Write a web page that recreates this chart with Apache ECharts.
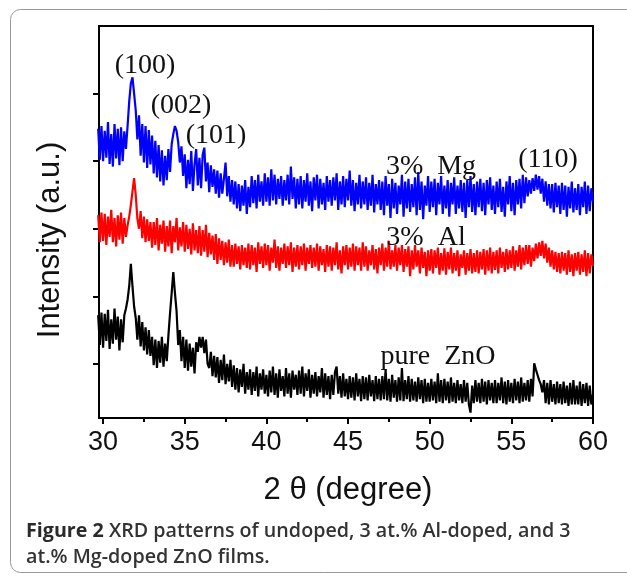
<!DOCTYPE html>
<html>
<head>
<meta charset="utf-8">
<script src="https://cdn.jsdelivr.net/npm/echarts@6/dist/echarts.min.js"></script>
<style>html,body{margin:0;padding:0;background:#fff}#c{width:627px;height:576px}</style>
</head>
<body>
<div id="c"></div>
<script>
// 2θ sampling grid: starts at 29.7°, 0.1° per sample
const thetaStart = 29.7;
const thetaStep = 0.1;

// Intensity (a.u.), one row per degree (29.7-29.9, 30.0-30.9, ..., 60.0)
const mg3 = [
  448, 402, 452,
  400, 445, 405, 458, 396, 440, 392, 455, 404, 448,
  394, 450, 400, 444, 418, 452, 488, 515, 524, 500,
  475, 432, 468, 408, 455, 398, 452, 390, 446, 395,
  438, 382, 430, 376, 424, 370, 416, 364, 408, 372,
  418, 384, 425, 440, 452, 445, 428, 398, 422, 378,
  410, 360, 402, 366, 415, 356, 395, 418, 364, 405,
  360, 410, 420, 370, 398, 354, 394, 362, 388, 352,
  386, 346, 382, 352, 374, 398, 348, 378, 340, 372,
  336, 370, 330, 366, 326, 364, 334, 372, 322, 362,
  332, 378, 338, 372, 330, 380, 340, 370, 334, 382,
  340, 376, 334, 388, 342, 380, 336, 374, 344, 378,
  334, 372, 342, 380, 336, 392, 344, 376, 330, 374,
  336, 378, 330, 372, 340, 382, 334, 370, 326, 376,
  342, 380, 330, 374, 336, 368, 328, 378, 340, 372,
  334, 376, 342, 382, 328, 370, 336, 378, 332, 374,
  342, 386, 334, 372, 326, 368, 336, 380, 330, 370,
  336, 376, 328, 368, 334, 380, 324, 366, 336, 372,
  328, 370, 320, 378, 334, 366, 316, 374, 330, 368,
  322, 364, 336, 380, 318, 370, 330, 374, 325, 366,
  332, 376, 320, 384, 328, 370, 314, 364, 334, 378,
  325, 370, 332, 374, 320, 368, 336, 378, 322, 364,
  330, 372, 318, 368, 336, 376, 322, 364, 330, 372,
  325, 368, 316, 372, 332, 378, 325, 366, 320, 370,
  332, 374, 326, 368, 320, 372, 336, 376, 328, 364,
  322, 370, 332, 374, 325, 362, 318, 370, 336, 378,
  326, 368, 320, 372, 336, 374, 330, 380, 338, 376,
  348, 372, 352, 375, 356, 380, 358, 378, 352, 374,
  340, 370, 334, 366, 330, 366, 324, 368, 332, 364,
  322, 368, 328, 364, 318, 362, 330, 370, 324, 360,
  328, 366, 320, 362, 332, 370, 322, 364, 326, 360,
  340
];
const al3 = [
  320, 280, 324,
  282, 322, 276, 318, 288, 328, 280, 316, 274, 320,
  284, 324, 278, 316, 288, 305, 318, 335, 355, 375,
  350, 315, 300, 326, 286, 318, 280, 314, 282, 310,
  272, 310, 276, 316, 268, 306, 278, 312, 266, 304,
  274, 312, 264, 304, 280, 316, 268, 302, 274, 310,
  266, 306, 270, 300, 262, 308, 268, 298, 264, 304,
  260, 298, 266, 306, 258, 294, 262, 290, 254, 292,
  248, 286, 254, 282, 246, 280, 250, 284, 244, 276,
  244, 278, 248, 274, 240, 276, 246, 272, 242, 278,
  240, 276, 246, 272, 236, 280, 248, 274, 242, 278,
  246, 276, 238, 272, 250, 284, 242, 274, 238, 272,
  248, 278, 242, 274, 246, 280, 236, 272, 244, 276,
  240, 274, 246, 278, 238, 272, 248, 276, 242, 272,
  244, 278, 238, 274, 246, 270, 236, 276, 244, 274,
  238, 272, 246, 280, 240, 268, 234, 274, 246, 276,
  240, 272, 244, 278, 238, 274, 246, 272, 238, 280,
  244, 274, 238, 268, 246, 276, 240, 270, 234, 272,
  246, 278, 238, 272, 244, 282, 240, 268, 244, 276,
  238, 272, 246, 276, 236, 270, 244, 274, 230, 268,
  240, 276, 244, 268, 234, 272, 242, 266, 230, 268,
  238, 270, 234, 268, 242, 272, 232, 264, 238, 271,
  232, 266, 240, 272, 234, 264, 238, 268, 230, 262,
  242, 268, 232, 264, 238, 270, 234, 264, 236, 268,
  234, 266, 240, 270, 232, 268, 238, 272, 234, 266,
  239, 268, 234, 272, 242, 266, 236, 270, 240, 268,
  242, 274, 238, 268, 244, 276, 240, 272, 246, 276,
  248, 276, 244, 272, 252, 278, 256, 280, 260, 282,
  256, 278, 250, 272, 244, 268, 240, 266, 236, 264,
  234, 266, 238, 264, 232, 268, 236, 262, 230, 264,
  238, 266, 232, 262, 236, 268, 230, 264, 234, 262,
  245
];
const pureZnO = [
  172, 128, 176,
  124, 174, 134, 180, 122, 166, 130, 182, 136, 170,
  120, 166, 132, 172, 182, 195, 215, 248, 215, 185,
  168, 136, 172, 126, 162, 120, 154, 114, 150, 112,
  140, 98, 136, 94, 134, 102, 140, 96, 130, 104,
  142, 175, 205, 236, 205, 178, 128, 150, 104, 140,
  94, 136, 90, 130, 96, 124, 86, 132, 118, 140,
  124, 140, 116, 136, 100, 94, 118, 82, 112, 80,
  110, 72, 106, 76, 114, 70, 100, 74, 106, 66,
  98, 62, 94, 58, 92, 66, 100, 56, 88, 62,
  92, 54, 88, 60, 96, 52, 86, 62, 92, 56,
  84, 52, 90, 58, 96, 54, 86, 50, 92, 60,
  82, 52, 94, 56, 86, 50, 90, 62, 84, 54,
  90, 56, 96, 52, 86, 60, 92, 50, 84, 56,
  88, 52, 82, 58, 94, 50, 86, 54, 82, 48,
  84, 54, 88, 96, 56, 82, 50, 86, 52, 78,
  48, 82, 50, 80, 46, 86, 52, 78, 45, 82,
  48, 80, 46, 84, 52, 76, 45, 82, 48, 78,
  46, 82, 48, 92, 46, 78, 44, 84, 50, 76,
  44, 80, 46, 94, 45, 76, 48, 82, 44, 78,
  46, 74, 44, 80, 48, 76, 42, 78, 44, 72,
  44, 78, 46, 74, 42, 86, 44, 76, 42, 78,
  46, 74, 42, 80, 44, 72, 42, 76, 46, 70,
  42, 76, 44, 72, 40, 28, 68, 42, 76, 44,
  72, 42, 78, 44, 74, 40, 76, 46, 72, 42,
  76, 42, 72, 46, 80, 42, 74, 40, 76, 44,
  72, 42, 78, 46, 74, 42, 80, 44, 72, 46,
  76, 44, 78, 52, 101, 92, 84, 76, 70, 58,
  76, 42, 72, 40, 76, 44, 70, 40, 74, 42,
  70, 40, 74, 42, 68, 38, 72, 40, 76, 40,
  68, 40, 74, 38, 70, 42, 72, 38, 68, 40,
  55
];

// tick labels
const xMajorTicks = [30, 35, 40, 45, 50, 55, 60];
const xMinorTicks = [32.5, 37.5, 42.5, 47.5, 52.5, 57.5];
const yTicks = [100, 200, 300, 400, 500];

// text labels
const peakLabels = ['(100)', '(002)', '(101)', '(110)'];
const seriesLabels = ['3%  Mg', '3%  Al', 'pure  ZnO'];

function toPairs(vals) {
  return vals.map((v, i) => [+(thetaStart + thetaStep * i).toFixed(2), v]);
}

const chart = echarts.init(document.getElementById('c'), null, {renderer: 'canvas'});
const serifFont = '"Liberation Serif", "Times New Roman", serif';
const sansFont = '"Liberation Sans", Arial, sans-serif';

function lineSeries(name, vals, color) {
  return {
    name, type: 'line', data: toPairs(vals), showSymbol: false, symbol: 'none',
    sampling: null, smooth: false, animation: false, clip: true,
    lineStyle: {color, width: 2.2}
  };
}

function label(text, x, y) {
  return {type: 'text', x, y, z: 10, style: {text, font: '28px ' + serifFont, fill: '#111', align: 'center', verticalAlign: 'middle'}};
}

const option = {
  animation: false,
  backgroundColor: '#fff',
  grid: {left: 99, right: 34, top: 26, bottom: 158, show: true, borderColor: '#000', borderWidth: 2, backgroundColor: 'transparent'},
  xAxis: [{
    type: 'value', min: 29.75, max: 60,
    axisLine: {show: true, lineStyle: {color: '#000', width: 2}},
    axisTick: {show: true, inside: false, length: 6, lineStyle: {color: '#000', width: 2}, customValues: xMajorTicks},
    axisLabel: {show: true, customValues: xMajorTicks, fontSize: 27, color: '#111', fontFamily: sansFont, margin: 11},
    splitLine: {show: false}
  }, {
    type: 'value', min: 29.75, max: 60, position: 'bottom',
    axisLine: {show: false},
    axisTick: {show: true, inside: false, length: 4, lineStyle: {color: '#000', width: 2}, customValues: xMinorTicks},
    axisLabel: {show: false},
    splitLine: {show: false}
  }],
  yAxis: {
    type: 'value', min: 20, max: 600,
    axisLine: {show: true, lineStyle: {color: '#000', width: 2}},
    axisTick: {show: true, inside: false, length: 6, lineStyle: {color: '#000', width: 2}, customValues: yTicks},
    axisLabel: {show: false},
    splitLine: {show: false}
  },
  series: [
    lineSeries('pure ZnO', pureZnO, '#000000'),
    lineSeries('3% Al', al3, '#ff0000'),
    lineSeries('3% Mg', mg3, '#0000ff')
  ],
  graphic: [
    {type: 'rect', shape: {x: 10.5, y: 9.5, width: 640, height: 563, r: 10}, style: {fill: 'none', stroke: '#999', lineWidth: 1}, silent: true, z: -1},
    label(peakLabels[0], 145, 66),
    label(peakLabels[1], 181, 106),
    label(peakLabels[2], 216, 136),
    label(peakLabels[3], 548, 160),
    label(seriesLabels[0], 431, 167),
    label(seriesLabels[1], 426, 238),
    label(seriesLabels[2], 438, 357),
    {type: 'text', x: 50, y: 240, rotation: Math.PI / 2, style: {text: 'Intensity (a.u.)', font: '31px ' + sansFont, fill: '#111', align: 'center', verticalAlign: 'middle'}},
    {type: 'text', x: 348, y: 490, style: {text: '2 θ (degree)', font: '31px ' + sansFont, fill: '#111', align: 'center', verticalAlign: 'middle'}},
    {type: 'text', x: 26, y: 531, style: {
      text: '{b|Figure 2} XRD patterns of undoped, 3 at.% Al-doped, and 3',
      font: '600 19.7px "Open Sans", sans-serif', fill: '#333', verticalAlign: 'middle', align: 'left',
      rich: {b: {fontWeight: 'bold', fontSize: 19.7, fontFamily: '"Open Sans", sans-serif', fill: '#2a2a2a'}}
    }},
    {type: 'text', x: 26, y: 557, style: {
      text: 'at.% Mg-doped ZnO films.',
      font: '600 19.7px "Open Sans", sans-serif', fill: '#333', verticalAlign: 'middle', align: 'left'
    }}
  ]
};
chart.setOption(option);
</script>
</body>
</html>
